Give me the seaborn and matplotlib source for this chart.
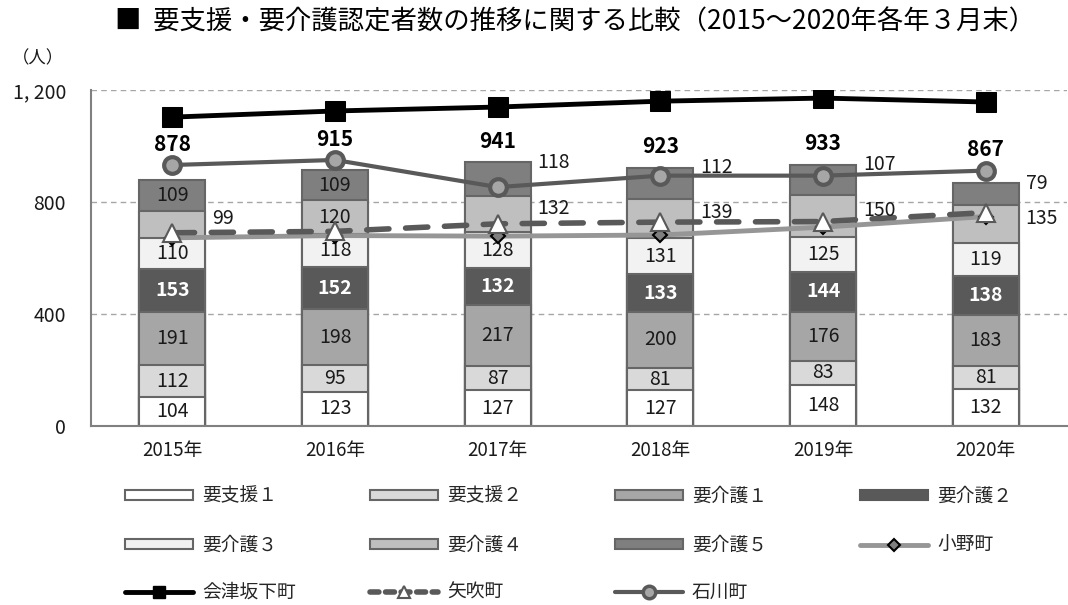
import numpy as np
import matplotlib
matplotlib.use("Agg")
import matplotlib.pyplot as plt
import seaborn as sns
from matplotlib.patches import Patch
from matplotlib.lines import Line2D

# ---------------- data ----------------
years = ["2015年", "2016年", "2017年", "2018年", "2019年", "2020年"]
categories = ["要支援１", "要支援２", "要介護１", "要介護２", "要介護３", "要介護４", "要介護５"]
shien1 = [104, 123, 127, 127, 148, 132]
shien2 = [112, 95, 87, 81, 83, 81]
kaigo1 = [191, 198, 217, 200, 176, 183]
kaigo2 = [153, 152, 132, 133, 144, 138]
kaigo3 = [110, 118, 128, 131, 125, 119]
kaigo4 = [99, 120, 132, 139, 150, 135]
kaigo5 = [109, 109, 118, 112, 107, 79]

towns = ["小野町", "会津坂下町", "矢吹町", "石川町"]
ono = [672, 680, 678, 682, 710, 748]
aizubange = [1103, 1125, 1139, 1160, 1171, 1157]
yabuki = [690, 695, 722, 728, 730, 762]
ishikawa = [932, 950, 853, 894, 894, 912]

yticks = [0, 400, 800, 1200]
ytick_labels = ["0", "400", "800", "1, 200"]

# ---------------- style ----------------
sns.set_theme(style="white")
plt.rcParams["font.family"] = ["Noto Sans CJK JP", "DejaVu Sans"]

fills = ["#ffffff", "#d9d9d9", "#a6a6a6", "#595959", "#f2f2f2", "#bfbfbf", "#7f7f7f"]
edge = "#666666"

fig = plt.figure(figsize=(10.68, 6.05), dpi=100)
ax = fig.add_axes([0.0852, 0.2959, 0.9139, 0.5554])

stack = np.array([shien1, shien2, kaigo1, kaigo2, kaigo3, kaigo4, kaigo5])
cum = np.cumsum(stack, axis=0)
totals = cum[-1]
xpos = np.arange(len(years))
bw = 0.405

# stacked bars: draw cumulative heights from the top layer down
for i in range(len(categories) - 1, -1, -1):
    sns.barplot(x=years, y=cum[i], color=fills[i], edgecolor=edge,
                linewidth=1.5, width=bw, saturation=1, errorbar=None,
                ax=ax, zorder=2)

# segment labels
lab_fs = 14
outside = {5: [0, 2, 3, 4, 5], 6: [2, 3, 4, 5]}
for i in range(len(categories)):
    for j in range(len(years)):
        v = stack[i, j]
        bottom = cum[i, j] - v
        mid = bottom + v / 2
        if i in outside and j in outside[i]:
            if i == 6:
                ax.annotate(str(v), (xpos[j] + bw / 2, cum[i, j]),
                            xytext=(5, 0), textcoords="offset points",
                            ha="left", va="center", fontsize=lab_fs, color="#1a1a1a", zorder=6)
            else:
                ax.annotate(str(v), (xpos[j] + bw / 2, mid),
                            xytext=(5, 4), textcoords="offset points",
                            ha="left", va="center", fontsize=lab_fs, color="#1a1a1a", zorder=6)
        else:
            col = "white" if i == 3 else "#1a1a1a"
            fw = "bold" if i == 3 else "normal"
            ax.text(xpos[j], mid, str(v), ha="center", va="center",
                    fontsize=lab_fs, color=col, fontweight=fw, zorder=3)

# lines
sns.lineplot(x=xpos, y=ono, ax=ax, color="#969696", linewidth=3.5,
             marker="D", markersize=7, markerfacecolor="#7f7f7f",
             markeredgecolor="black", markeredgewidth=1.5, zorder=4)
sns.lineplot(x=xpos, y=yabuki, ax=ax, color="#595959", linewidth=4,
             linestyle=(0, (4, 3)), dash_capstyle="round",
             marker="^", markersize=13, markerfacecolor="white",
             markeredgecolor="#595959", markeredgewidth=1.5, zorder=5)
sns.lineplot(x=xpos, y=ishikawa, ax=ax, color="#595959", linewidth=3,
             marker="o", markersize=12, markerfacecolor="#a6a6a6",
             markeredgecolor="#595959", markeredgewidth=3, zorder=5)
sns.lineplot(x=xpos, y=aizubange, ax=ax, color="black", linewidth=3.5,
             marker="s", markersize=14, markerfacecolor="black",
             markeredgecolor="black", zorder=6)

# totals
for j in range(len(years)):
    ax.annotate(str(totals[j]), (xpos[j], max(totals[j], ishikawa[j])),
                xytext=(0, 15), textcoords="offset points",
                ha="center", va="center", fontsize=15, fontweight="bold",
                color="black", zorder=7)

# axes styling
ax.set_xlim(-0.5, len(years) - 0.5)
ax.set_ylim(0, 1200)
ax.set_yticks(yticks)
ax.set_yticklabels(ytick_labels)
ax.set_xticks(xpos)
ax.set_xticklabels(years)
ax.set_xticks(np.arange(-0.5, len(years)), minor=True)
ax.set_xlabel("")
ax.set_ylabel("")
ax.yaxis.grid(True, linestyle=(0, (4, 3)), color="#a6a6a6", linewidth=1)
ax.xaxis.grid(False)
ax.set_axisbelow(True)
for s in ["top", "right"]:
    ax.spines[s].set_visible(False)
for s in ["left", "bottom"]:
    ax.spines[s].set_color("#808080")
    ax.spines[s].set_linewidth(1.5)
ax.tick_params(axis="x", which="major", length=0, pad=10, labelsize=13.5, labelcolor="#1a1a1a")
ax.tick_params(axis="x", which="minor", length=5, direction="in", color="#808080", width=1.2)
ax.tick_params(axis="y", length=5, direction="in", color="#808080", pad=18,
               labelsize=14, labelcolor="#1a1a1a")

fig.text(0.0356, 0.904, "（人）", fontsize=12.5, ha="center", va="center", color="#1a1a1a")
fig.text(0.1077, 0.9636, "■  要支援・要介護認定者数の推移に関する比較（2015～2020年各年３月末）",
         fontsize=19, ha="left", va="center", color="black")

# legend (row-major layout, 4 columns)
handles = [Patch(facecolor=fills[i], edgecolor=(fills[i] if i == 3 else edge), linewidth=1.5)
           for i in range(len(categories))]
handles += [
    Line2D([], [], color="#969696", linewidth=3.5, marker="D", markersize=6,
           markerfacecolor="#7f7f7f", markeredgecolor="black", markeredgewidth=1.5),
    Line2D([], [], color="black", linewidth=3.5, marker="s", markersize=9),
    Line2D([], [], color="#595959", linewidth=4, linestyle=(0, (1.6, 1.2)),
           dash_capstyle="round", marker="^", markersize=9, markerfacecolor="white",
           markeredgecolor="#595959", markeredgewidth=1.5),
    Line2D([], [], color="#595959", linewidth=3, marker="o", markersize=9,
           markerfacecolor="#a6a6a6", markeredgecolor="#595959", markeredgewidth=2.5),
]
labels = categories + towns
col_x = [125, 370, 615, 860]
row_y = [496, 545, 592]
for k, (h, lab) in enumerate(zip(handles, labels)):
    r, c = divmod(k, 4)
    fig.legend([h], [lab], loc="center left",
               bbox_to_anchor=(col_x[c] / 1068, 1 - row_y[r] / 605),
               frameon=False, fontsize=13.5, handlelength=3.6, handleheight=0.45,
               handletextpad=0.5, borderpad=0, borderaxespad=0)

fig.savefig("out.png", dpi=100)
